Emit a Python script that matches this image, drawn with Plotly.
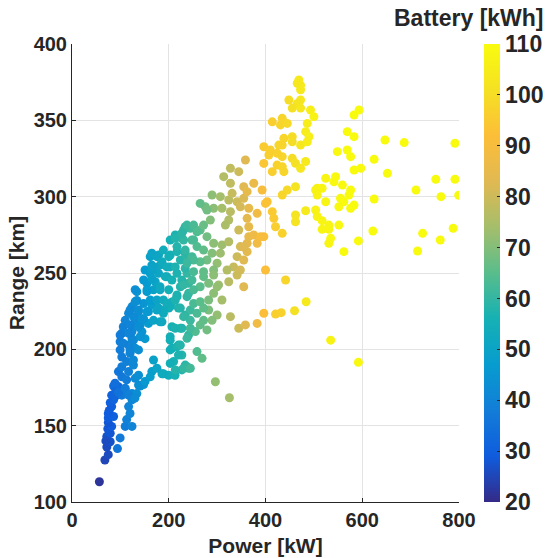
import plotly.graph_objects as go

# (power kW, range km, battery kWh), grouped by region
dark_column = [
    (56.6,113.3,22),(68,127.5,25),(75,131,26),(72,136,26),(79,139.5,27),(72,143,27),
    (79,145,28),(74,148,28),(82,149.5,29),(75,152,28),(75,155,29),(86,156,30),
    (75,158,29),(82,162.5,30),(79,165,30),(86,167,31),(82,170,31),(89,169,32),
    (86,176,33),(96,175.5,34),(92.6,176,33),(70,140,26),(77,160,29),(90,172,32),
]
light_blue = [
    (94,135,36),(99.5,142,37),(110,149.5,38),(124,149.5,40),(113,154,39),(120,158,40),
    (117,162.5,40),(124,167,41),(103,170,37),(110,173.5,38),(124,171,41),(134,171,43),
    (141,176,44),(148,177,45),
]
blue_band = [
    (89,177.8,34),(96,172,35),(110,174.5,38),(117,170,39),(130,168,42),(137.5,176.6,43),
    (130.6,181,42),(103,182,37),(96,185.4,36),(117,185.4,39),(137.5,183,43),(151,179,46),
    (165,185.4,48),(186,184,52),(199.6,183,54),(213,183,56),(227,186.5,58),(241,187.6,60),
    (175.5,187.6,50),(168.5,193,49),(103,188.6,38),(113,192,39),(127,189.7,41),(103,195,38),
    (120,197.4,40),(99.5,199.6,38),(130.6,200.7,42),(117,202.8,40),(99.5,205,38),(124,207,41),
    (151,207,46),(103,210.5,39),(124,211.6,41),(144.5,211.6,44),(106,214.8,39),(124,216,41),
    (141,216,44),(158,217,47),(110,219,40),(130.6,220,42),(148,220,45),(117,223.6,41),
    (137.5,224.7,43),(158,224.7,47),(124,228,42),(148,230,45),(165,229,48),(134,232,43),
    (186,218,52),(203,208.3,55),(206.6,200.7,55),(220,202.8,57),(227,196.3,58),(210,192,56),
    (234,189.7,59),(206.6,214.8,56),(227,213.8,58),(234,222.5,59),(220,227,57),(200,227,54),
    (179,227,51),(206.6,231,55),
    (113,180,38),(127,193,41),(120,199.6,40),(137.5,199.6,43),(106,204,39),(127,206,41),
    (99.5,209.4,38),(117,210.5,40),(141,208.3,44),(120,216,40),(137.5,214.8,43),(127,221.4,42),
    (144.5,220,44),(120,225.8,41),(137.5,225.8,43),(155,224.7,46),(130.6,231.2,43),
    (161.7,232.3,47),(134,237.8,44),(155,237.8,47),(168.5,239,49),(175.5,232.3,50),
    (155,243.3,47),(172,244.3,50),(182,241,52),(161.7,249.8,48),(179,249.8,51),(196,247.6,54),
    (165,255.2,49),(182,255.2,52),(203,254,55),(161.7,260.7,49),(179,261.8,52),(203,261.8,55),
    (224,258.5,58),(237.7,260.7,60),(217,249.8,57),(237.7,249.8,60),(224,241,58),(241,243.3,60),
    (217,234.5,57),(237.7,234.5,60),(189,232.3,53),(203,228,55),(224,227,58),(244.6,225.8,61),
    (189,225.8,53),(182,218,52),(203,199.6,55),(217,201.7,57),(220,196.3,57),(203,190.8,55),
    (237.7,188.6,60),(224,213.8,58),(241,209.4,60),(244.6,219,61),(189,184,53),(161.7,182,48),
]
upper_blue = [
    (130.6,239,43),(155,239,47),(148,245.4,46),(165,246.5,49),(151,252,47),(165,252,49),
    (165,263,50),(175.5,260.7,51),(186,257.4,53),(196,254,54),(193,247.6,54),(206.6,245.4,56),
    (227,245.4,58),(203,271.6,56),(213.5,274.9,57),(234,280.3,60),(227,272.7,59),(217,264,57),
    (234,263,59),(213.5,254,57),(234,253,59),(217,235.6,57),(241,236.7,60),(200,239,55),
    (182,239,52),(248,271.6,62),(248,260.7,62),
]
teal_green = [
    (244.6,279.3,62),(230.7,278.2,60),(251.4,271.6,63),(230.7,271.6,60),(213.5,272.7,58),
    (217,267.3,58),(234,265,60),(258.4,267.3,64),(272,265,66),(289.5,263,70),(279,258.5,68),
    (265,257.4,65),(251.4,258.5,63),(237.7,256.4,61),(300,256.4,72),(292.8,252,70),
    (272,250.9,66),(251.4,250.9,63),(189,265,54),(200,260.7,55),(168.5,254,50),
    (265,278.2,66),(272,281.4,67),(279,273.8,68),(292.8,269.5,71),(310,268.4,73),
    (324,270.5,76),(306.7,263,73),(289.5,301.1,71),(306.7,300,74),(324,297.8,77),
    (341.3,296.7,80),(355,298.9,82),(348,293.4,81),(275.6,293.4,68),(292.8,292.4,71),
    (310,292.4,74),(327.5,290.2,77),(365.4,292.4,85),(382.8,289.1,88),(286,284.7,70),
    (324,284.7,76),(317,281.4,75),(362,285.8,84),(365.4,280.3,85),(344.7,278.2,80),
    (365.4,273.8,85),(375.7,274.9,87),(396.5,273.8,91),(382.8,269.5,88),(362,269.5,84),
    (348,267.3,81),(362,264,84),(341.3,260.7,80),(355,258.5,83),(334,254,79),(348,252,81),
    (320.6,252,76),(265,295.6,66),(279,291.3,68),(237.7,281.4,61),(251.4,281.4,63),
    (258.4,277,64),(227,276,59),(355,306.5,83),(389.6,273.8,90),(355,267,83),
]
orange_upper = [
    (396.5,332.7,95),(427.6,333.8,98),(407,327.3,96),(434.6,326.2,98),(396.5,321.8,94),
    (424,320.7,97),(414,316.4,96),(358.5,324,83),(327.5,318.6,78),(344.7,316.4,80),
    (313.6,313.1,76),(375.7,308.8,86),(393,304.4,90),(362,303.3,85),(331,302.2,79),
    (327.5,308.8,78),(414,290.2,95),(417.2,285.8,95),(403.5,296.7,93),(445,304.4,99),
    (420.7,280.3,96),(434.6,276,97),(400,252,92),(400,295.6,93),
]
lower_mid = [
    (341.3,248.7,80),(355,241,83),(441.5,245.4,98),(324,244.3,77),(303,242.2,73),
    (310,232.3,74),(327.5,221.4,77),(300,222.5,72),(282.5,225.8,69),(289.5,219,70),
    (279,212.7,68),(265,216,66),(255,211.6,64),(244.6,213.8,62),(237.7,207.2,61),
    (344.7,213.8,80),(358.5,216,83),(382.8,217,88),(396.5,223.6,92),(420.7,223.1,96),
    (432.5,224,97),(460,225.3,101),(484,231.2,104),(534.7,206,107),(592,191.5,109),
    (258.4,198.5,64),(268.8,194.1,66),(296.4,178.8,72),(325.4,168.3,74),(230.7,187.6,60),
    (244.6,187.6,62),(213.5,186.5,58),(224,202.8,58),(203,206,55),(213.5,213.8,57),
    (230.7,221.4,60),(258.4,223.6,63),(272,219,66),(272,227,66),(251.4,230,63),
    (265,231.2,65),(282.5,232.3,69),(292.8,236.7,71),(300,241,72),(282.5,243.3,69),
    (265,241,65),(251.4,239,63),(248,245.4,62),(272,247.6,66),(292.8,248.7,71),
    (230.7,242.2,60),(213.5,232.3,57),(196,230,54),(189,223.6,53),(175.5,225.8,51),
    (168.5,219,50),
]
yellow_top = [
    (469,376.4,104),(472.5,373,104),(465.7,374.3,103),(472.5,370,104),(448.3,363.3,100),
    (472.5,363.3,103),(465.7,361,102),(455.3,358,101),(472.5,358,103),(493,356.8,106),
    (500,352.4,107),(414,349,96),(434.6,351.3,98),(431,347,98),(445,348,99),(486.4,348,105),
    (483,342.6,105),(490,339.3,106),(438,338.2,98),(455.3,339.3,100),(434.6,333.8,98),
    (455.3,336,100),(472.5,333.8,103),(486.4,336,105),(410,330.6,96),(424.3,328.4,97),
    (455.3,325.1,100),(462,321.9,101),(472.5,318.6,103),(483,323,104),(434.6,319.6,98),
    (438,316.4,98),(462,306.5,102),(507,305.5,107),(517,305.5,108),(524.4,312,108),
    (545,313.1,109),(559,307.6,109),(548.6,329.5,109),(569,330.6,110),(576,326.2,110),
    (569,342.6,110),(583,339.3,110),(583,353.5,110),(593.4,356.8,110),(583,317.5,110),
    (597,318.6,110),(624.5,324.5,110),(647,337.1,110),(652,315.3,110),
]
yellow_mid = [
    (434.6,301.1,98),(503.6,304.4,107),(507,301.1,107),(541.5,309.8,109),(576,304.4,110),
    (572.6,301.1,110),(555,298.9,109),(562,296.7,110),(524.4,296.7,108),(551.7,293.4,109),
    (583,294.5,110),(576,292.4,110),(624.5,298.5,110),(462,288,102),(462,283.6,102),
    (483,290.8,104),(503.6,291.3,107),(507,287,107),(517,284.3,108),(531,281.4,108),
    (517,278.6,108),(531,278.6,108),(551.7,281.4,109),(534.7,272.7,109),(531,269.5,108),
    (562,264,110),(592,271,110),(622,277.5,110),
]
yellow_far = [
    (686.7,335.4,110),(791.7,335,110),(711,304.4,110),(752,311.4,110),(791.7,311.4,110),
    (762.7,300,110),(799.4,300.9,110),(724.8,276,110),(788,279.3,110),(761.3,271.6,110),
    (714.4,264.4,110),
]

groups = [dark_column, light_blue, blue_band, upper_blue, teal_green, lower_mid,
          orange_upper, yellow_top, yellow_mid, yellow_far]
power = [p for g in groups for (p, r, b) in g]
range_km = [r for g in groups for (p, r, b) in g]
battery = [b for g in groups for (p, r, b) in g]

x_ticks = [0, 200, 400, 600, 800]
y_ticks = [100, 150, 200, 250, 300, 350, 400]
cb_ticks = [20, 30, 40, 50, 60, 70, 80, 90, 100, 110]

parula = [
    [0.0, "rgb(53,42,135)"],
    [0.1, "rgb(15,92,221)"],
    [0.2, "rgb(18,125,216)"],
    [0.3, "rgb(7,156,207)"],
    [0.4, "rgb(21,177,180)"],
    [0.5, "rgb(89,189,140)"],
    [0.6, "rgb(165,190,107)"],
    [0.7, "rgb(225,185,82)"],
    [0.8, "rgb(252,190,56)"],
    [0.9, "rgb(245,225,35)"],
    [1.0, "rgb(249,251,14)"],
]

TXT = "#262626"
FONT = "Liberation Sans"

fig = go.Figure(go.Scatter(
    x=power, y=range_km, mode="markers",
    marker=dict(
        size=9, color=battery, colorscale=parula, cmin=20, cmax=110,
        line=dict(width=0),
        colorbar=dict(
            x=1.0646, xanchor="left", xpad=0, y=0.5, yanchor="middle",
            len=1, lenmode="fraction", ypad=0, thickness=16, outlinewidth=0,
            tickvals=cb_ticks, ticks="inside", ticklen=3, tickcolor=TXT,
            tickfont=dict(family=FONT, size=23, color=TXT, weight="bold"),
        ),
    ),
    hoverinfo="skip",
))

fig.update_layout(
    width=548, height=558,
    margin=dict(l=72, r=89, t=44, b=56, autoexpand=False),
    paper_bgcolor="white", plot_bgcolor="white",
    showlegend=False,
    font=dict(family=FONT, color=TXT),
    xaxis=dict(
        range=[0, 800], tickvals=x_ticks, showgrid=True, gridcolor="#e3e3e3",
        showline=True, linecolor=TXT, linewidth=1, ticks="inside", ticklen=4,
        tickcolor=TXT, zeroline=False, automargin=False,
        tickfont=dict(family=FONT, size=20, color=TXT, weight="bold"),
        title=dict(text="Power [kW]", standoff=8,
                   font=dict(family=FONT, size=21, color=TXT, weight="bold")),
    ),
    yaxis=dict(
        range=[100, 400], tickvals=y_ticks, showgrid=True, gridcolor="#e3e3e3",
        showline=True, linecolor=TXT, linewidth=1, ticks="inside", ticklen=4,
        tickcolor=TXT, zeroline=False, automargin=False,
        tickfont=dict(family=FONT, size=20, color=TXT, weight="bold"),
        title=dict(text="Range [km]", standoff=3,
                   font=dict(family=FONT, size=21, color=TXT, weight="bold")),
    ),
    annotations=[dict(
        text="Battery [kWh]", xref="paper", yref="paper",
        x=1.2248, xanchor="right", y=1.0568, yanchor="middle", showarrow=False,
        font=dict(family=FONT, size=23, color=TXT, weight="bold"),
    )],
)

fig.write_html("out.html")
